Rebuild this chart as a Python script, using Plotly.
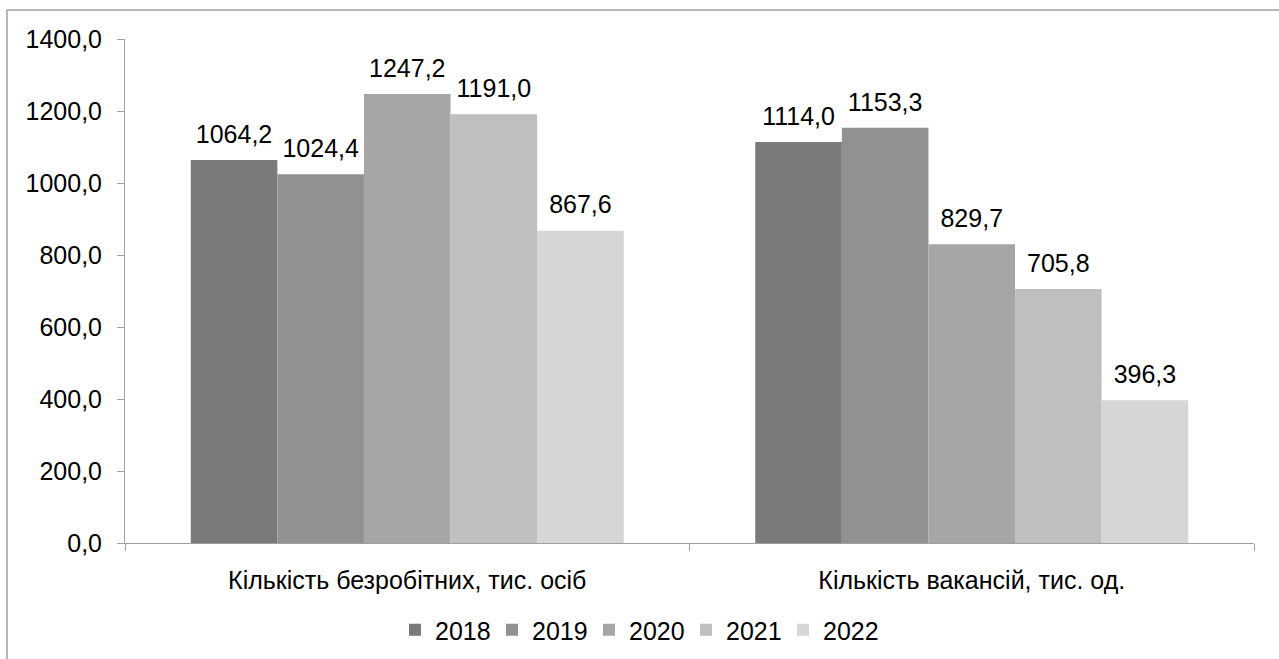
import plotly.graph_objects as go

categories = ["Кількість безробітних, тис. осіб", "Кількість вакансій, тис. од."]
years = ["2018", "2019", "2020", "2021", "2022"]
values = {
    "2018": [1064.2, 1114.0],
    "2019": [1024.4, 1153.3],
    "2020": [1247.2, 829.7],
    "2021": [1191.0, 705.8],
    "2022": [867.6, 396.3],
}
colors = ["#7a7a7a", "#919191", "#a6a6a6", "#bfbfbf", "#d6d6d6"]
ytick_vals = [0, 200, 400, 600, 800, 1000, 1200, 1400]

font = "Liberation Sans, Arial, sans-serif"
FS = 25
GAP = 0.233


def fmt(v):
    return f"{v:.1f}".replace(".", ",")


fig = go.Figure()
for yr, col in zip(years, colors):
    vals = values[yr]
    fig.add_trace(go.Bar(
        name=yr, x=categories, y=vals,
        marker=dict(color=col, line=dict(width=0)),
        offsetgroup=yr, hoverinfo="skip",
    ))
# value labels, grouped the same way as the bars
for yr in years:
    vals = values[yr]
    fig.add_trace(go.Scatter(
        x=categories, y=vals, mode="markers+text",
        marker=dict(size=16, opacity=0), offsetgroup=yr,
        text=[fmt(v) for v in vals], textposition="top center",
        textfont=dict(size=FS, color="#000000", family=font),
        showlegend=False, cliponaxis=False, hoverinfo="skip",
    ))

fig.update_layout(
    width=1279, height=659,
    paper_bgcolor="white", plot_bgcolor="white",
    barmode="group", bargap=GAP, bargroupgap=0,
    scattermode="group", scattergap=GAP,
    margin=dict(l=125, r=25, t=39, b=116),
    font=dict(family=font, size=FS, color="#000000"),
    showlegend=True,
    legend=dict(orientation="h", xref="container", x=(440 - 45) / 1279, xanchor="left",
                yref="container", y=(659 - 630) / 659, yanchor="middle",
                font=dict(size=FS), itemwidth=30, entrywidth=52, traceorder="normal",
                bgcolor="rgba(0,0,0,0)"),
)
fig.update_yaxes(
    range=[0, 1400], tickvals=ytick_vals,
    ticktext=[fmt(v) for v in ytick_vals],
    showgrid=False, zeroline=False, automargin=False,
    showline=True, linecolor="#a0a0a0", linewidth=1,
    ticks="outside", ticklen=7, tickcolor="#a0a0a0",
    ticklabelstandoff=10,
    tickfont=dict(size=FS),
)
fig.update_xaxes(
    showgrid=False, showline=True, linecolor="#a0a0a0", linewidth=1, automargin=False,
    ticks="outside", ticklen=7, tickcolor="#a0a0a0", tickson="boundaries",
    ticklabelstandoff=15, tickfont=dict(size=FS),
)
# chart border (left and top edges visible)
fig.add_shape(type="rect", xref="paper", yref="paper",
              x0=(7 - 125) / 1129, x1=1.5, y0=-1.0, y1=(543 - 10) / 504,
              line=dict(color="#a0a0a0", width=1.5), layer="below")

fig.write_html("out.html", config={"displayModeBar": False},
               post_script="document.body.style.margin='0';document.body.style.overflow='hidden';")
